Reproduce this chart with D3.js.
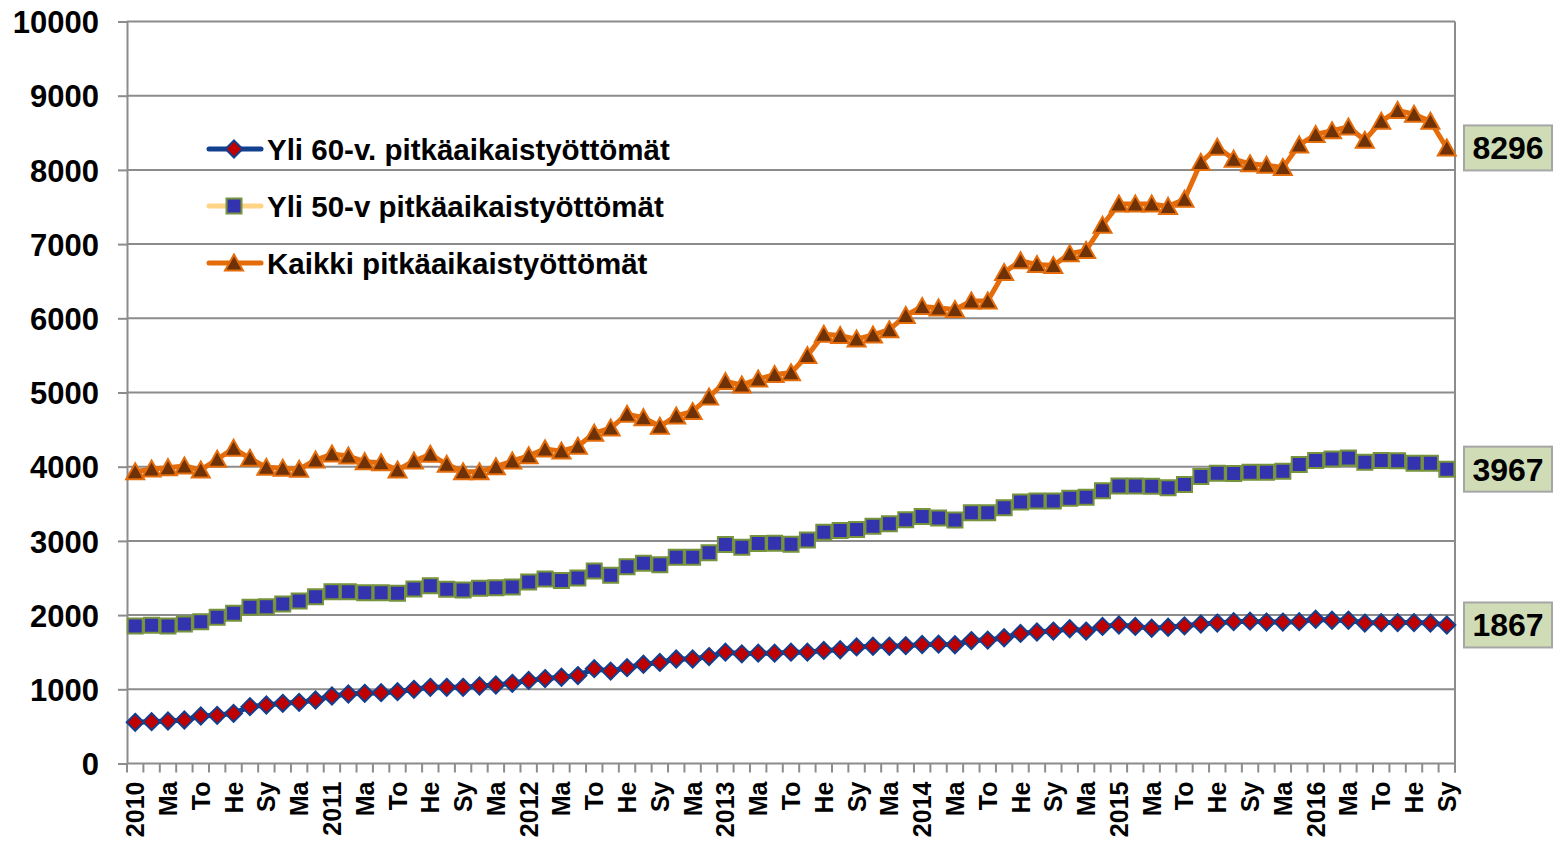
<!DOCTYPE html>
<html>
<head>
<meta charset="utf-8">
<script src="https://cdn.jsdelivr.net/npm/d3@7"></script>
<style>
body { margin: 0; background: #fff; }
svg text { font-family: "Liberation Sans", Arial, sans-serif; font-weight: bold; fill: #000; }
</style>
</head>
<body>
<div id="chart"></div>
<script>
const WIDTH = 1558, HEIGHT = 841;
const PLOT = { left: 127, right: 1455, top: 21.5, bottom: 763.5 };

// categories: monthly 2010/01 .. 2016/09, label every other month
const years = ["2010", "2011", "2012", "2013", "2014", "2015", "2016"];
const monthLabels = ["", "", "Ma", "", "To", "", "He", "", "Sy", "", "Ma", ""];
const lastYearMonths = 9;
const yTicks = [0, 1000, 2000, 3000, 4000, 5000, 6000, 7000, 8000, 9000, 10000];

const seriesNames = ["Yli 60-v. pitkäaikaistyöttömät", "Yli 50-v pitkäaikaistyöttömät", "Kaikki pitkäaikaistyöttömät"];

const yli60 = [555, 564, 573, 586, 640, 649, 676, 766, 788, 811, 824, 856,
    910, 937, 946, 955, 968, 1000, 1027, 1027, 1027, 1044, 1058, 1081,
    1120, 1145, 1162, 1185, 1278, 1245, 1292, 1338, 1362, 1408, 1408, 1441,
    1501, 1478, 1487, 1487, 1501, 1501, 1524, 1533, 1571, 1580, 1580, 1588,
    1604, 1608, 1600, 1657, 1663, 1695, 1753, 1772, 1785, 1816, 1785, 1848,
    1867, 1848, 1823, 1836, 1855, 1880, 1893, 1912, 1918, 1906, 1906, 1912,
    1944, 1931, 1931, 1893, 1899, 1899, 1899, 1893, 1867];
const yli50 = [1853, 1862, 1853, 1880, 1911, 1970, 2024, 2105, 2114, 2150, 2190, 2248,
    2316, 2316, 2302, 2302, 2293, 2352, 2397, 2348, 2338, 2361, 2370, 2380,
    2445, 2487, 2467, 2500, 2593, 2537, 2653, 2700, 2677, 2779, 2779, 2839,
    2951, 2914, 2965, 2970, 2955, 3011, 3118, 3141, 3155, 3197, 3230, 3286,
    3328, 3309, 3282, 3378, 3378, 3448, 3525, 3537, 3537, 3576, 3588, 3677,
    3741, 3741, 3735, 3716, 3760, 3869, 3913, 3907, 3926, 3926, 3939, 4028,
    4085, 4105, 4117, 4060, 4085, 4079, 4047, 4047, 3967];
const kaikki = [3933, 3969, 3987, 4009, 3956, 4099, 4248, 4113, 3991, 3978, 3965, 4090,
    4171, 4144, 4068, 4054, 3956, 4077, 4167, 4032, 3933, 3933, 4000, 4077,
    4147, 4240, 4210, 4275, 4452, 4521, 4707, 4661, 4545, 4684, 4744, 4940,
    5149, 5102, 5181, 5242, 5265, 5497, 5785, 5767, 5720, 5776, 5846, 6037,
    6160, 6140, 6119, 6233, 6233, 6616, 6775, 6724, 6711, 6871, 6915, 7253,
    7540, 7540, 7540, 7508, 7604, 8101, 8305, 8145, 8082, 8062, 8031, 8337,
    8477, 8528, 8579, 8400, 8655, 8802, 8751, 8655, 8296];

const categories = [];
years.forEach((yr, yi) => {
    monthLabels.forEach((m, mi) => {
        if (yi == years.length - 1 && mi >= lastYearMonths) return;
        categories.push({ key: yr + "-" + (mi + 1), label: mi == 0 ? yr : m });
    });
});

const GRID = "#8c8c8c";

const svg = d3.select("#chart")
    .append("svg")
    .attr("width", WIDTH)
    .attr("height", HEIGHT);

const x = d3.scaleBand()
    .domain(categories.map(c => c.key))
    .range([PLOT.left, PLOT.right]);
const y = d3.scaleLinear()
    .domain([0, 10000])
    .range([PLOT.bottom, PLOT.top]);
const cx = i => x(categories[i].key) + x.bandwidth() / 2;

// gridlines
svg.append("g")
    .selectAll("line")
    .data(yTicks)
    .join("line")
    .attr("x1", PLOT.left).attr("x2", PLOT.right)
    .attr("y1", d => y(d)).attr("y2", d => y(d))
    .attr("stroke", GRID).attr("stroke-width", 2);
// right border of plot area
svg.append("line")
    .attr("x1", PLOT.right).attr("x2", PLOT.right)
    .attr("y1", PLOT.top).attr("y2", PLOT.bottom + 9)
    .attr("stroke", GRID).attr("stroke-width", 2);

// y axis
const yAxisG = svg.append("g")
    .attr("class", "yaxis")
    .attr("transform", "translate(" + PLOT.left + ",0)")
    .call(d3.axisLeft(y).tickValues(yTicks).tickSize(9).tickSizeOuter(0).tickPadding(19).tickFormat(d3.format("d")));
yAxisG.select(".domain").attr("stroke", GRID).attr("stroke-width", 2);
yAxisG.selectAll(".tick line").attr("stroke", GRID).attr("stroke-width", 2);
yAxisG.selectAll(".tick text")
    .attr("font-size", 31)
    .attr("font-family", null)
    .attr("dy", "0.36em");

// x axis: ticks between categories, labels rotated
const bounds = categories.map(c => x(c.key)).concat([PLOT.right]);
svg.append("g")
    .selectAll("line")
    .data(bounds)
    .join("line")
    .attr("x1", d => d).attr("x2", d => d)
    .attr("y1", PLOT.bottom).attr("y2", PLOT.bottom + 9)
    .attr("stroke", GRID).attr("stroke-width", 2);
svg.append("g")
    .selectAll("text")
    .data(categories.filter(c => c.label != ""))
    .join("text")
    .attr("transform", d => "translate(" + (x(d.key) + x.bandwidth() / 2) + "," + (PLOT.bottom + 18) + ") rotate(-90)")
    .attr("text-anchor", "end")
    .attr("dy", "0.36em")
    .attr("font-size", 25)
    .text(d => d.label);

// marker shapes
const diamond = r => "M0," + (-r) + "L" + r + ",0L0," + r + "L" + (-r) + ",0Z";
const square = r => "M" + (-r) + "," + (-r) + "H" + r + "V" + r + "H" + (-r) + "Z";
const triangle = r => "M0," + (-r) + "L" + (r + 0.5) + "," + (r - 1) + "L" + (-r - 0.5) + "," + (r - 1) + "Z";

const series = [
    { name: seriesNames[0], values: yli60, line: "#123f8e", fill: "#c00000", stroke: "#123f8e", shape: diamond(8.5) },
    { name: seriesNames[1], values: yli50, line: "#ffd486", fill: "#3333b0", stroke: "#77933c", shape: square(7.5) },
    { name: seriesNames[2], values: kaikki, line: "#e46c0a", fill: "#6f3206", stroke: "#e46c0a", shape: triangle(8.5) }
];

const line = d3.line()
    .x((d, i) => cx(i))
    .y(d => y(d));

series.forEach(s => {
    const g = svg.append("g");
    g.append("path")
        .datum(s.values)
        .attr("d", line)
        .attr("fill", "none")
        .attr("stroke", s.line)
        .attr("stroke-width", 5)
        .attr("stroke-linejoin", "round");
    g.selectAll("path.mk")
        .data(s.values)
        .join("path")
        .attr("class", "mk")
        .attr("transform", (d, i) => "translate(" + cx(i) + "," + y(d) + ")")
        .attr("d", s.shape)
        .attr("fill", s.fill)
        .attr("stroke", s.stroke)
        .attr("stroke-width", 2);
});

// legend
const legend = svg.append("g");
series.forEach((s, i) => {
    const ly = 149 + i * 57;
    legend.append("line")
        .attr("x1", 209).attr("x2", 261)
        .attr("y1", ly).attr("y2", ly)
        .attr("stroke", s.line).attr("stroke-width", 5)
        .attr("stroke-linecap", "round");
    legend.append("path")
        .attr("transform", "translate(234," + ly + ")")
        .attr("d", s.shape)
        .attr("fill", s.fill)
        .attr("stroke", s.stroke)
        .attr("stroke-width", 2);
    legend.append("text")
        .attr("x", 267).attr("y", ly)
        .attr("dy", "0.36em")
        .attr("font-size", 29.5)
        .text(s.name);
});

// last value boxes
series.forEach(s => {
    const last = s.values[s.values.length - 1];
    const g = svg.append("g").attr("transform", "translate(1508," + y(last) + ")");
    g.append("rect")
        .attr("x", -44).attr("y", -22.5)
        .attr("width", 88).attr("height", 45)
        .attr("fill", "#cfdcb6")
        .attr("stroke", "#a6a6a6")
        .attr("stroke-width", 2);
    g.append("text")
        .attr("text-anchor", "middle")
        .attr("dy", "0.36em")
        .attr("font-size", 32)
        .text(last);
});
</script>
</body>
</html>
